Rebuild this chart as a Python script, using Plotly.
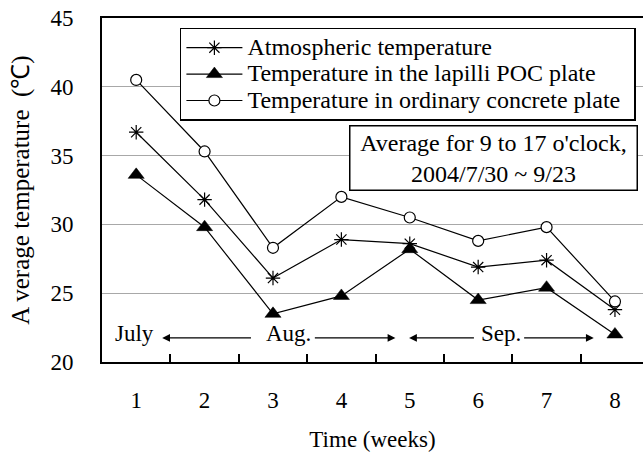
import plotly.graph_objects as go

weeks = ["1", "2", "3", "4", "5", "6", "7", "8"]
atmospheric = [36.7, 31.8, 26.1, 28.9, 28.6, 26.9, 27.4, 23.8]
poc_plate = [33.6, 29.8, 23.5, 24.8, 28.2, 24.5, 25.4, 22.0]
ordinary_plate = [40.5, 35.3, 28.3, 32.0, 30.5, 28.8, 29.8, 24.4]

series_names = ["Atmospheric temperature",
                "Temperature in the lapilli POC plate",
                "Temperature in ordinary concrete plate"]

month_labels = ["July", "Aug.", "Sep."]
month_label_x = [-0.02, 2.22, 5.34]
month_y = 22.1
arrow_y = 21.75
# (tail, head) in category-index units
month_arrows = [(1.70, 0.38), (2.59, 3.79), (4.96, 3.99), (5.65, 6.69)]

FONT = "Liberation Serif"

def nm(s, pad=""):
    return "<span style='font-size:24px'>" + s + "</span>" + pad

fig = go.Figure()
fig.add_trace(go.Scatter(
    x=weeks, y=atmospheric, name=nm(series_names[0]), mode="lines+markers",
    line=dict(color="black", width=1.2),
    marker=dict(symbol="asterisk-open", size=12, color="black", line=dict(color="black", width=1.2))))
fig.add_trace(go.Scatter(
    x=weeks, y=poc_plate, name=nm(series_names[1]), mode="lines+markers",
    line=dict(color="black", width=1.2),
    marker=dict(symbol="triangle-up", size=14, color="black", line=dict(color="black", width=0.5))))
fig.add_trace(go.Scatter(
    x=weeks, y=ordinary_plate, name=nm(series_names[2], "&nbsp;&nbsp;"), mode="lines+markers",
    line=dict(color="black", width=1.2),
    marker=dict(symbol="circle", size=11, color="white", line=dict(color="black", width=1.2))))

annotations = []
for lab, xv in zip(month_labels, month_label_x):
    annotations.append(dict(x=xv, y=month_y, xref="x", yref="y", text=lab, showarrow=False,
                            font=dict(family=FONT, size=23, color="black")))
for tail, head in month_arrows:
    annotations.append(dict(x=head, y=arrow_y, ax=tail, ay=arrow_y, xref="x", yref="y",
                            axref="x", ayref="y", text="", showarrow=True,
                            arrowhead=2, arrowsize=1.2, arrowwidth=1.3, arrowcolor="black"))
annotations.append(dict(x=0.7237, y=0.593, xref="paper", yref="paper",
                        xanchor="center", yanchor="middle",
                        text="Average for 9 to 17 o'clock,<br>2004/7/30 ~ 9/23",
                        showarrow=False, align="center",
                        font=dict(family=FONT, size=24, color="black"),
                        bordercolor="black", borderwidth=1.5, borderpad=3,
                        bgcolor="white", width=280))

fig.update_layout(
    width=643, height=454,
    margin=dict(l=102, r=0, t=18, b=92),
    paper_bgcolor="white", plot_bgcolor="white",
    font=dict(family=FONT, size=22, color="black"),
    showlegend=True,
    legend=dict(x=0.144, y=0.971, xanchor="left", yanchor="top",
                bordercolor="black", borderwidth=1.5, bgcolor="white",
                font=dict(family=FONT, size=18, color="black"),
                itemwidth=56, tracegroupgap=0),
    annotations=annotations,
    xaxis=dict(type="category", categoryorder="array", categoryarray=weeks,
               range=[-0.5, 7.41], showgrid=False, showline=True, linecolor="black",
               linewidth=2, mirror=True, ticks="inside", tickson="boundaries",
               ticklen=8, tickwidth=1.5, tickcolor="black", ticklabelstandoff=16,
               tickfont=dict(family=FONT, size=23),
               title=dict(text="Time (weeks)", font=dict(family=FONT, size=23), standoff=19)),
    yaxis=dict(range=[20, 45], dtick=5, showgrid=True, gridcolor="#a8a8a8", gridwidth=1.3,
               showline=True, linecolor="black", linewidth=2, ticks="",
               ticklabelstandoff=22, zeroline=False,
               tickfont=dict(family=FONT, size=23),
               title=dict(text="A verage temperature  (\u2103)", font=dict(family=FONT, size=25),
                          standoff=14)),
)

fig.write_html("out.html")
